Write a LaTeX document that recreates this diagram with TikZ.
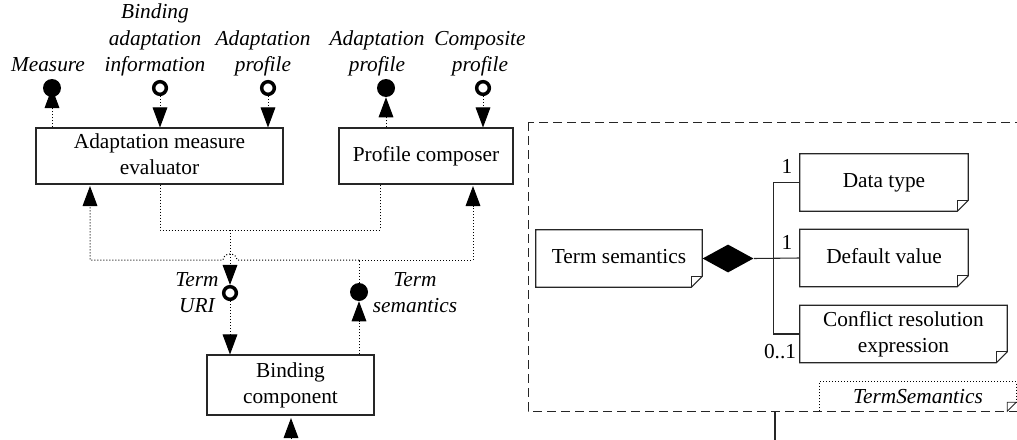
\documentclass[tikz,border=0pt]{standalone}
\usepackage{fontspec}
\setmainfont{Liberation Serif}
\usetikzlibrary{arrows.meta,calc,shapes.geometric}
\pgfdeclarelayer{bg}
\pgfsetlayers{bg,main}
\begin{document}
\begin{tikzpicture}[x=0.75pt,y=-0.75pt,
  every node/.style={font=\fontsize{16}{20}\selectfont, inner sep=0pt},
  box/.style={draw=black!85, line width=0.8pt, align=center},
  note/.style={align=center},
  edge/.style={draw=black!85, line width=0.8pt},
  dep/.style={line width=0.75pt, dash pattern=on 0.75pt off 1.5pt},
  arr/.style={-{Triangle[length=15pt,width=11pt]}},
  prov/.style={circle, fill=black, minimum size=13.5pt},
  req/.style={circle, draw=black, line width=2.6pt, fill=white, minimum size=9.5pt},
  lbl/.style={font=\fontsize{16}{20}\selectfont\itshape, align=center, anchor=south},
]
\useasboundingbox (0,0) rectangle (1017,439);

% components
\node[box, minimum width=185.25pt, minimum height=42pt] (ame) at (159.5,156) {\strut Adaptation measure\\\strut evaluator};
\node[box, minimum width=130.5pt, minimum height=42pt] (pc) at (426,156) {\strut Profile composer};
\node[box, minimum width=125.25pt, minimum height=45pt] (bc) at (290.5,385) {\strut Binding\\\strut component};

% interfaces
\node[prov] (meas) at (52,88) {};
\node[req] (bai) at (160,88) {};
\node[req] (ap1) at (268,88) {};
\node[prov] (ap2) at (386,88) {};
\node[req] (cp) at (483,88) {};
\node[req] (uri) at (230,293) {};
\node[prov] (tsem) at (359,292) {};

% interface labels
\node[lbl] (lmeas) at (48,80) {\strut Measure};
\node[lbl] (lbai) at (155,80) {\strut Binding\\\strut adaptation\\\strut information};
\node[lbl] (lap1) at (263,80) {\strut Adaptation\\\strut profile};
\node[lbl] (lap2) at (377,80) {\strut Adaptation\\\strut profile};
\node[lbl] (lcp) at (480,80) {\strut Composite\\\strut profile};
\node[lbl] (luri) at (197,321) {\strut Term\\\strut URI};
\node[lbl] (ltsem) at (415,321) {\strut Term\\\strut semantics};

% bus coordinates
\coordinate (busA) at (230,230);
\coordinate (pcA) at (380,184);
\coordinate (busB) at (359,260);
\coordinate (hopR) at (237,260);
\coordinate (amein) at (90,186);
\coordinate (pcin) at (473,186);
\coordinate (bcsrc) at (291,450);
\coordinate (bcin) at (291,418);

\begin{pgfonlayer}{bg}
\draw[dep,arr] (meas |- ame.north) -- (meas.center);
\draw[dep,arr] (bai) -- (bai |- ame.north);
\draw[dep,arr] (ap1) -- (ap1 |- ame.north);
\draw[dep,arr] (ap2 |- pc.north) -- (ap2);
\draw[dep,arr] (cp) -- (cp |- pc.north);
\draw[dep] (bai |- ame.south) |- (busA -| pcA) -- (pcA);
\draw[dep,arr] (busA) -- (uri);
\draw[dep,arr] (uri) -- (uri |- bc.north);
\draw[dep] (tsem) -- (busB);
\draw[dep,arr] (busB) -- (pcin |- busB) -- (pcin);
\draw[dep,arr] (busB) -- (hopR) arc[start angle=0, end angle=-180, x radius=7, y radius=6] -- (amein |- busB) -- (amein);
\draw[dep,arr] (tsem |- bc.north) -- (tsem);
\draw[dep,arr] (bcsrc) -- (bcin);
\end{pgfonlayer}

% package container
\draw[draw=black!85, line width=0.75pt, dash pattern=on 6.75pt off 3.75pt] (528,122) rectangle (1040,411);
\coordinate (contbot) at (775,411);
\coordinate (contout) at (775,450);
\draw[edge] (contbot) -- (contout);

% notes
\node[note, minimum width=124.5pt, minimum height=42.75pt] (ts) at (619,258.5) {\strut Term semantics};
\node[note, minimum width=126pt, minimum height=42.75pt] (dt) at (884,182.5) {\strut Data type};
\node[note, minimum width=126pt, minimum height=42.75pt] (dv) at (884,258) {\strut Default value};
\node[note, minimum width=155.25pt, minimum height=42.75pt] (cr) at (903.5,334) {\strut Conflict resolution\\\strut expression};
\foreach \n in {ts,dt,dv,cr}{
  \draw[edge] (\n.south west) -- (\n.north west) -- (\n.north east) -- ($(\n.south east)+(0,-11)$) -- ($(\n.south east)+(-11,0)$) -- cycle;
  \draw[edge, line width=0.6pt] ($(\n.south east)+(-11,0)$) -- ($(\n.south east)+(-11,-11)$) -- ($(\n.south east)+(0,-11)$);
}

% composition
\node[diamond, fill=black, minimum width=38.25pt, minimum height=21pt, anchor=west] (dmd) at (ts.east) {};
\draw[edge] (dmd.east) -- (dv.west);
\draw[edge] (dt.west) -- ++(-26,0) |- (cr.west);
\node (m1) at (787,166) {1};
\node (m2) at (787,242) {1};
\node (m3) at (780,351.5) {0..1};

% tag
\node[font=\fontsize{16}{20}\selectfont\itshape, minimum width=147pt, minimum height=21.75pt] (tag) at (918,396.5) {TermSemantics};
\draw[dep] (tag.south west) -- (tag.north west) -- (tag.north east) -- ($(tag.south east)+(0,-9)$);
\draw[edge, line width=0.6pt] ($(tag.south east)+(-9,0)$) -- ($(tag.south east)+(-9,-9)$) -- ($(tag.south east)+(0,-9)$) -- cycle;
\end{tikzpicture}
\end{document}
